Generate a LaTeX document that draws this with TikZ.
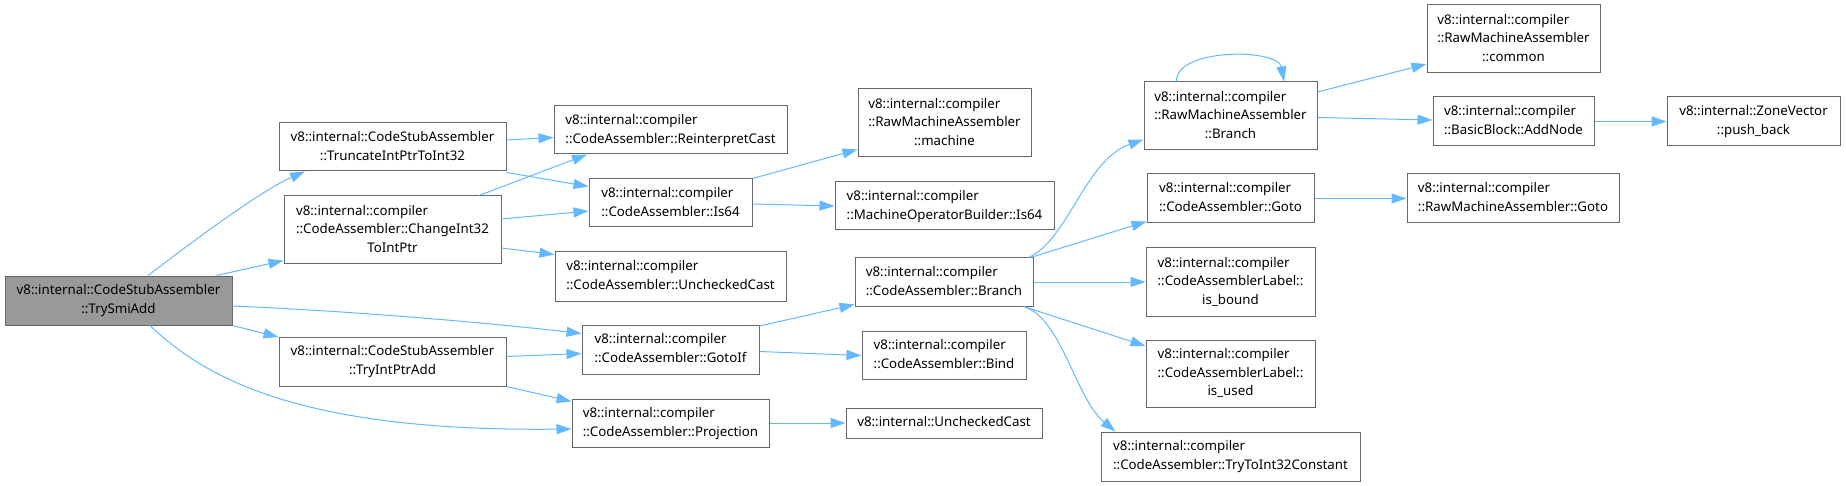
\documentclass[tikz,border=0pt]{standalone}
\usepackage{fontspec}
\setmainfont{Noto Sans}
\usetikzlibrary{arrows.meta}
\definecolor{edgec}{HTML}{63B8FF}
\definecolor{bord}{HTML}{666666}
\definecolor{cur}{HTML}{999999}
\newcommand{\Ll}[1]{\multicolumn{1}{@{}l@{}}{#1}}
\newcommand{\Lb}[1]{\begin{tabular}{@{}c@{}}#1\end{tabular}}
\newcommand{\nd}[7][]{\node[box,#1,minimum width={(#5-#3)*1pt},minimum height={(#6-#4)*1pt}] (#2) at ({(#3+#5)/2},{(#4+#6)/2}) {\Lb{#7}};}
\begin{document}
\begin{tikzpicture}[x=1pt,y=-1pt,
  box/.style={draw=bord,line width=1pt,fill=white,inner sep=0pt,font=\fontsize{13.3}{18.7}\selectfont},
  link/.style={draw=edgec,line width=1pt,-{Triangle[length=15pt,width=10pt]}}]
\useasboundingbox (0,0) rectangle (1846,486);
% nodes
\nd[fill=cur]{smi}{5}{276}{232}{325}{v8::internal::CodeStubAssembler\\::TrySmiAdd}
\nd{trunc}{279}{123}{506}{171}{v8::internal::CodeStubAssembler\\::TruncateIntPtrToInt32}
\nd{chg}{284}{196}{501}{264}{\Ll{v8::internal::compiler}\\::CodeAssembler::ChangeInt32\\ToIntPtr}
\nd{tryptr}{279}{337}{506}{386}{v8::internal::CodeStubAssembler\\::TryIntPtrAdd}
\nd{reint}{554}{106}{787}{154}{\Ll{v8::internal::compiler}\\::CodeAssembler::ReinterpretCast}
\nd{is64}{589}{179}{752}{227}{\Ll{v8::internal::compiler}\\::CodeAssembler::Is64}
\nd{uc}{555}{252}{786}{301}{\Ll{v8::internal::compiler}\\::CodeAssembler::UncheckedCast}
\nd{gotoif}{582}{325}{759}{374}{\Ll{v8::internal::compiler}\\::CodeAssembler::GotoIf}
\nd{proj}{572}{399}{769}{447}{\Ll{v8::internal::compiler}\\::CodeAssembler::Projection}
\nd{mach}{858}{89}{1031}{157}{\Ll{v8::internal::compiler}\\::RawMachineAssembler\\::machine}
\nd{mob}{835}{182}{1054}{230}{\Ll{v8::internal::compiler}\\::MachineOperatorBuilder::Is64}
\nd{cabr}{855}{258}{1033}{306}{\Ll{v8::internal::compiler}\\::CodeAssembler::Branch}
\nd{bind}{862}{331}{1026}{379}{\Ll{v8::internal::compiler}\\::CodeAssembler::Bind}
\nd{vuc}{846}{408}{1042}{438}{v8::internal::UncheckedCast}
\nd{rmabr}{1144}{82}{1317}{150}{\Ll{v8::internal::compiler}\\::RawMachineAssembler\\::Branch}
\nd{goto}{1147}{174}{1314}{223}{\Ll{v8::internal::compiler}\\::CodeAssembler::Goto}
\nd{isb}{1146}{248}{1315}{316}{\Ll{v8::internal::compiler}\\::CodeAssemblerLabel::\\is\_bound}
\nd{isu}{1146}{340}{1315}{407}{\Ll{v8::internal::compiler}\\::CodeAssemblerLabel::\\is\_used}
\nd{tti}{1101}{432}{1360}{481}{\Ll{v8::internal::compiler}\\::CodeAssembler::TryToInt32Constant}
\nd{common}{1427}{5}{1600}{73}{\Ll{v8::internal::compiler}\\::RawMachineAssembler\\::common}
\nd{addn}{1433}{97}{1594}{146}{\Ll{v8::internal::compiler}\\::BasicBlock::AddNode}
\nd{rmagoto}{1407}{174}{1619}{223}{\Ll{v8::internal::compiler}\\::RawMachineAssembler::Goto}
\nd{push}{1667}{97}{1840}{146}{v8::internal::ZoneVector\\::push\_back}
% edges
\draw[link] ([xshift=29.5pt]smi.north) .. controls (188,245) and (260,191) .. ([xshift=-87.5pt]trunc.south);
\draw[link] ([xshift=-16pt]smi.north east) -- ([yshift=4pt]chg.south west);
\draw[link] ([yshift=-5.5pt]smi.east) .. controls (350,311) and (480,322) .. ([yshift=-9pt]gotoif.north west);
\draw[link] (smi.south east) -- ([yshift=-0.5pt]tryptr.north west);
\draw[link] ([xshift=31.5pt]smi.south) .. controls (205,378) and (300,432) .. ([yshift=-6pt]proj.west);
\draw[link] ([yshift=7pt]trunc.east) -- ([yshift=-7.5pt]reint.west);
\draw[link] ([yshift=-1pt]trunc.south east) -- ([yshift=-8pt]is64.north west);
\draw[link] ([xshift=-22.5pt]chg.north east) -- ([xshift=33.5pt]reint.south west);
\draw[link] ([yshift=11pt]chg.east) -- ([yshift=-8pt]is64.west);
\draw[link] ([yshift=-18pt]chg.east) -- ([yshift=-3pt]uc.north west);
\draw[link] ([yshift=5pt]tryptr.east) -- ([yshift=-4pt]gotoif.west);
\draw[link] (tryptr.south east) -- ([yshift=-3pt]proj.north west);
\draw[link] (is64.north east) -- ([yshift=8pt]mach.south west);
\draw[link] ([yshift=-1pt]is64.east) -- ([yshift=0pt]mob.west);
\draw[link] ([yshift=-1.5pt]gotoif.north east) -- ([yshift=2pt]cabr.south west);
\draw[link] ([yshift=-2pt]gotoif.east) -- ([yshift=-0.5pt]bind.west);
\draw[link] (proj.east) -- (vuc.west);
\draw[link] ([xshift=-5pt]cabr.north east) .. controls (1068,240) and (1085,160) .. ([yshift=11pt]rmabr.south west);
\draw[link] ([xshift=-3pt]cabr.north east) -- ([yshift=2pt]goto.south west);
\draw[link] (cabr.east) -- (isb.west);
\draw[link] ([xshift=-10pt]cabr.south east) -- ([yshift=-6.5pt]isu.north west);
\draw[link] ([xshift=-10pt]cabr.south east) .. controls (1062,318) and (1075,398) .. ([xshift=15pt]tti.north west);
\draw[link] ([yshift=-10.5pt]rmabr.north east) -- ([yshift=9.5pt]common.south west);
\draw[link] ([yshift=-1.5pt]rmabr.east) -- ([yshift=1.5pt]addn.west);
\draw[link] ([xshift=33pt]rmabr.north west) .. controls (1175,48) and (1278,48) .. ([xshift=-33.5pt]rmabr.north east);
\draw[link] (addn.east) -- (push.west);
\draw[link] (goto.east) -- (rmagoto.west);
\end{tikzpicture}
\end{document}
